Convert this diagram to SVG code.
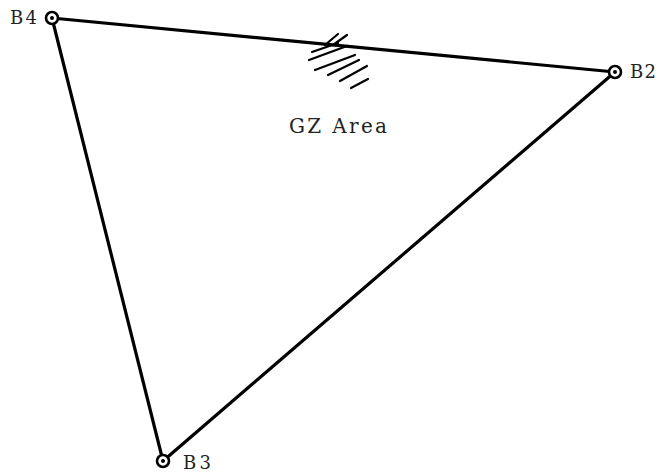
<svg xmlns="http://www.w3.org/2000/svg" width="659" height="473" viewBox="0 0 659 473">
<style>
.edge{stroke:#000;stroke-width:3.2;stroke-linecap:round;fill:none}
.hatch{stroke:#000;stroke-width:2.2;stroke-linecap:round}
.ring{fill:#fff;stroke:#000;stroke-width:2.6}
.dot{fill:#000}
.lbl{font-family:"DejaVu Serif","Liberation Serif",serif;font-size:18px;fill:#222}
</style>
<rect width="659" height="473" fill="#fff"/>
<g id="connectors">
<line class="edge" x1="52" y1="18" x2="615" y2="72"/>
<line class="edge" x1="615" y1="72" x2="163" y2="461"/>
<line class="edge" x1="163" y1="461" x2="52" y2="18"/>
</g>
<g id="gz-area">
<line class="hatch" x1="325" y1="45" x2="338" y2="34"/>
<line class="hatch" x1="333" y1="45" x2="347" y2="35"/>
<line class="hatch" x1="312" y1="52" x2="338" y2="43"/>
<line class="hatch" x1="309" y1="60" x2="347" y2="46"/>
<line class="hatch" x1="315" y1="70" x2="355" y2="55"/>
<line class="hatch" x1="328" y1="75" x2="359" y2="60"/>
<line class="hatch" x1="340" y1="81" x2="367" y2="66"/>
<line class="hatch" x1="351" y1="88" x2="368" y2="79"/>
<text class="lbl" x="289" y="133" style="font-size:20px" textLength="98" lengthAdjust="spacing">GZ Area</text>
</g>
<g id="B4">
<circle class="ring" cx="52" cy="18" r="6"/>
<circle class="dot" cx="52" cy="18" r="2"/>
<text class="lbl" x="10" y="24" textLength="27" lengthAdjust="spacing">B4</text>
</g>
<g id="B2">
<circle class="ring" cx="615" cy="72" r="6"/>
<circle class="dot" cx="615" cy="72" r="2"/>
<text class="lbl" x="630" y="78" textLength="26" lengthAdjust="spacing">B2</text>
</g>
<g id="B3">
<circle class="ring" cx="163" cy="461" r="6"/>
<circle class="dot" cx="163" cy="461" r="2"/>
<text class="lbl" x="183" y="469" textLength="28" lengthAdjust="spacing">B3</text>
</g>
</svg>
